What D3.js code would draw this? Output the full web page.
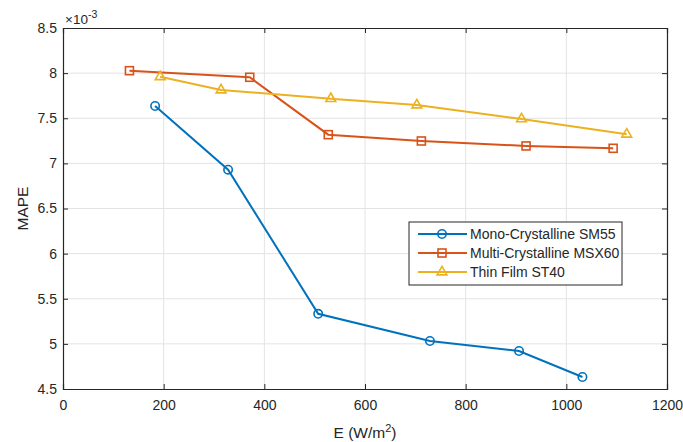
<!DOCTYPE html>
<html>
<head>
<meta charset="utf-8">
<script src="https://cdn.jsdelivr.net/npm/d3@7"></script>
<style>
  body { margin: 0; background: #fff; }
  svg { font-family: "Liberation Sans", Arial, sans-serif; }
</style>
</head>
<body>
<script>
// irradiance (W/m^2) and MAPE values (x 10^-3)
const monoE = [183, 328, 507, 729, 906, 1032];
const monoMape = [7.636, 6.930, 5.333, 5.032, 4.921, 4.633];
const multiE = [132, 371, 527, 712, 920, 1093];
const multiMape = [8.027, 7.954, 7.318, 7.248, 7.193, 7.167];
const thinE = [193, 314, 532, 703, 911, 1120];
const thinMape = [7.960, 7.813, 7.717, 7.647, 7.492, 7.322];

const seriesNames = ["Mono-Crystalline SM55", "Multi-Crystalline MSX60", "Thin Film ST40"];
const xTicks = [0, 200, 400, 600, 800, 1000, 1200];
const yTicks = [4.5, 5, 5.5, 6, 6.5, 7, 7.5, 8, 8.5];

const width = 683, height = 442;
const margin = {left: 63, right: 16, top: 28, bottom: 53};
const axisColor = "#262626";

const series = [
  {name: seriesNames[0], xs: monoE, ys: monoMape, color: "#0072BD", marker: "circle"},
  {name: seriesNames[1], xs: multiE, ys: multiMape, color: "#D95319", marker: "square"},
  {name: seriesNames[2], xs: thinE, ys: thinMape, color: "#EDB120", marker: "triangle"}
];

const svg = d3.select("body").append("svg")
    .attr("width", width)
    .attr("height", height);

const x = d3.scaleLinear().domain([0, 1200]).range([margin.left, width - margin.right]);
const y = d3.scaleLinear().domain([4.5, 8.5]).range([height - margin.bottom, margin.top]);

// grid
svg.append("g")
  .selectAll("line.gx")
  .data(xTicks.slice(1, -1))
  .join("line")
    .attr("x1", d => x(d)).attr("x2", d => x(d))
    .attr("y1", y(4.5)).attr("y2", y(8.5))
    .attr("stroke", "#e3e3e3").attr("stroke-width", 1);
svg.append("g")
  .selectAll("line.gy")
  .data(yTicks.slice(1, -1))
  .join("line")
    .attr("y1", d => y(d)).attr("y2", d => y(d))
    .attr("x1", x(0)).attr("x2", x(1200))
    .attr("stroke", "#e3e3e3").attr("stroke-width", 1);

// axes (MATLAB style: inward ticks, box on)
const tickLen = 5;
const fmt = d3.format("");
const xAxis = svg.append("g")
    .attr("transform", `translate(0,${y(4.5)})`)
    .call(d3.axisBottom(x).tickValues(xTicks).tickSize(-tickLen).tickPadding(11).tickFormat(fmt));
const xAxisTop = svg.append("g")
    .attr("transform", `translate(0,${y(8.5)})`)
    .call(d3.axisTop(x).tickValues(xTicks).tickSize(-tickLen).tickFormat(""));
const yAxis = svg.append("g")
    .attr("transform", `translate(${x(0)},0)`)
    .call(d3.axisLeft(y).tickValues(yTicks).tickSize(-tickLen).tickPadding(6).tickFormat(fmt));
const yAxisRight = svg.append("g")
    .attr("transform", `translate(${x(1200)},0)`)
    .call(d3.axisRight(y).tickValues(yTicks).tickSize(-tickLen).tickFormat(""));

[xAxis, xAxisTop, yAxis, yAxisRight].forEach(g => {
  g.select(".domain").attr("stroke", axisColor).attr("stroke-width", 1.2);
  g.selectAll(".tick line").attr("stroke", axisColor);
  g.selectAll(".tick text").attr("fill", axisColor).style("font-size", "14px");
});

// exponent label
svg.append("text")
    .attr("x", x(0) + 2).attr("y", y(8.5) - 4)
    .attr("fill", axisColor).style("font-size", "13.5px")
    .html("×10<tspan dy='-6' font-size='10.5px'>-3</tspan>");

// axis labels
svg.append("text")
    .attr("x", (x(0) + x(1200)) / 2).attr("y", 438)
    .attr("text-anchor", "middle").attr("fill", axisColor).style("font-size", "15.5px")
    .html("E (W/m<tspan dy='-6' font-size='11px'>2</tspan><tspan dy='6'>)</tspan>");
svg.append("text")
    .attr("transform", `translate(28,${(y(4.5) + y(8.5)) / 2}) rotate(-90)`)
    .attr("text-anchor", "middle").attr("fill", axisColor).style("font-size", "15.5px")
    .text("MAPE");

const line = d3.line().x(d => x(d[0])).y(d => y(d[1]));

function drawMarker(g, m, color) {
  if (m === "circle") {
    g.append("circle").attr("r", 4.2);
  } else if (m === "square") {
    g.append("rect").attr("x", -4).attr("y", -4).attr("width", 8).attr("height", 8);
  } else {
    g.append("path").attr("d", d3.symbol(d3.symbolTriangle, 42)());
  }
  g.selectAll("*").attr("fill", "none").attr("stroke", color).attr("stroke-width", 1.6);
}

series.forEach(s => {
  const pts = s.xs.map((v, i) => [v, s.ys[i]]);
  svg.append("path")
      .datum(pts)
      .attr("d", line)
      .attr("fill", "none")
      .attr("stroke", s.color)
      .attr("stroke-width", 2);
  svg.append("g").selectAll("g")
    .data(pts)
    .join("g")
      .attr("transform", d => `translate(${x(d[0])},${y(d[1])})`)
      .each(function() { drawMarker(d3.select(this), s.marker, s.color); });
});

// legend
const lg = svg.append("g").attr("transform", "translate(409,222)");
lg.append("rect")
    .attr("width", 213).attr("height", 63)
    .attr("fill", "#fff").attr("stroke", axisColor).attr("stroke-width", 1);
series.forEach((s, i) => {
  const row = lg.append("g").attr("transform", `translate(0,${12 + i * 19})`);
  row.append("line").attr("x1", 9).attr("x2", 58)
      .attr("stroke", s.color).attr("stroke-width", 2);
  drawMarker(row.append("g").attr("transform", "translate(33,0)"), s.marker, s.color);
  row.append("text").attr("x", 61).attr("dy", "0.35em")
      .attr("fill", axisColor).style("font-size", "14px")
      .text(s.name);
});
</script>
</body>
</html>
